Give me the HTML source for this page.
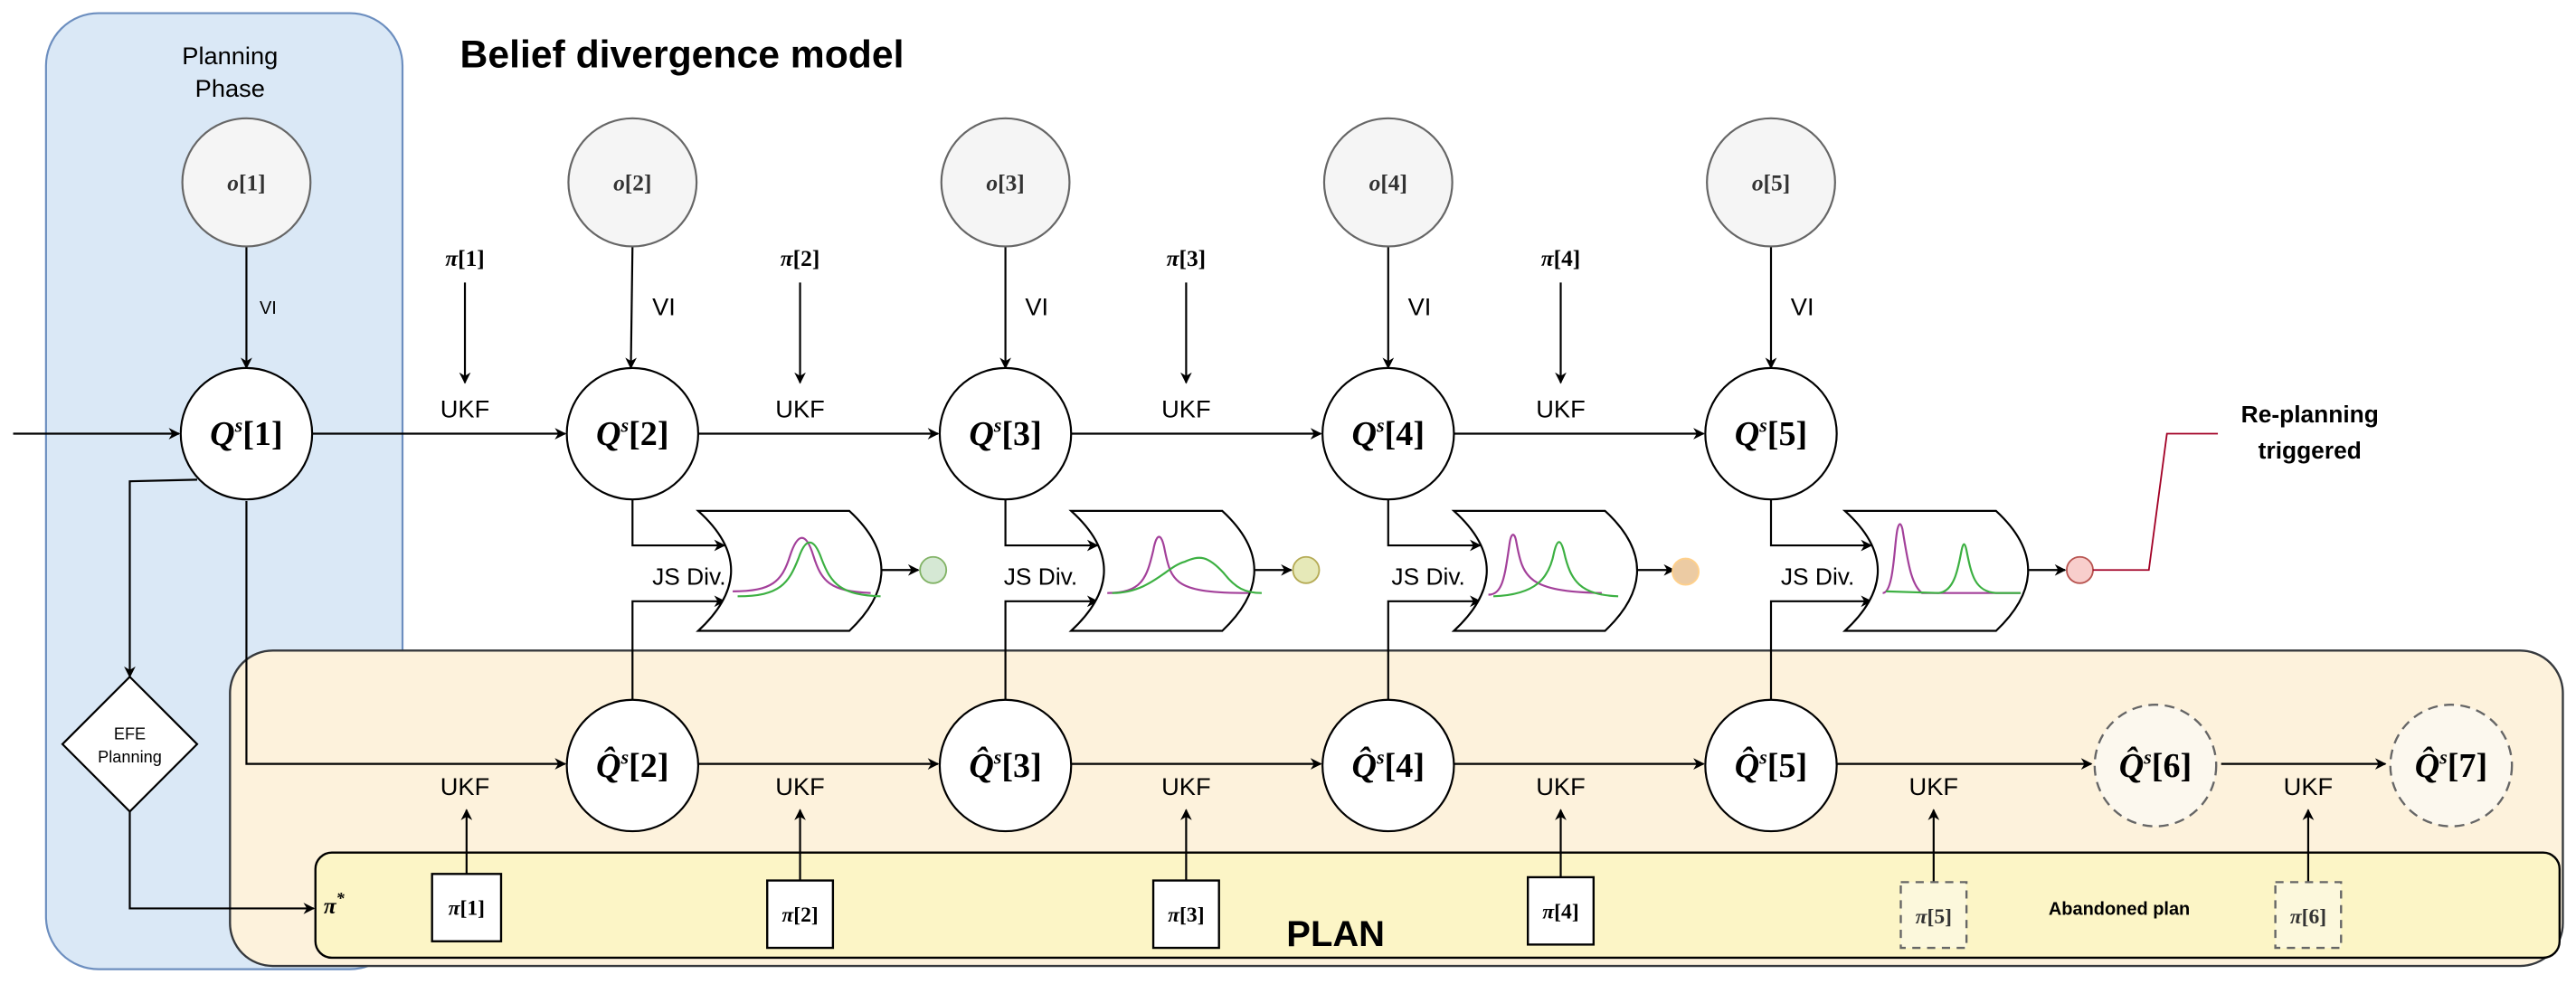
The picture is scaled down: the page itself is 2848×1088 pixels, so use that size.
<!DOCTYPE html>
<html><head><meta charset="utf-8"><style>
html,body{margin:0;padding:0;background:#fff;}
svg{display:block;}
.s{font-family:"Liberation Sans",sans-serif;}
.m{font-family:"Liberation Serif",serif;}
</style></head><body>
<svg width="2848" height="1088" viewBox="0 0 1568 599" xmlns="http://www.w3.org/2000/svg">
<defs>
<marker id="a" viewBox="0 0 10 10" refX="9" refY="5" markerWidth="7" markerHeight="7" orient="auto" markerUnits="userSpaceOnUse">
<path d="M0,0 L10,5 L0,10 L3,5 Z" fill="#000"/></marker>
</defs>
<rect width="1568" height="599" fill="#fff"/>
<rect x="28" y="8" width="217" height="582" rx="32" fill="#dae8f6" stroke="#6c8ebf" stroke-width="1.2"/>
<text class="s" x="140" y="39" font-size="15" text-anchor="middle">Planning</text>
<text class="s" x="140" y="59" font-size="15" text-anchor="middle">Phase</text>
<text class="s" x="280" y="41" font-size="23.5" font-weight="bold">Belief divergence model</text>
<rect x="140" y="396" width="1420" height="192" rx="26" fill="#fdf2dc" stroke="#36393d" stroke-width="1.3"/>
<rect x="192" y="519" width="1366" height="64" rx="10" fill="#fcf5c6" stroke="#000" stroke-width="1.3"/>
<text class="s" x="813" y="576" font-size="22" font-weight="bold" text-anchor="middle">PLAN</text>
<text class="s" x="1290" y="557" font-size="11" font-weight="bold" text-anchor="middle">Abandoned plan</text>
<text class="m" x="197" y="556" font-size="14" font-style="italic" font-weight="bold">π<tspan font-size="10" dy="-6">*</tspan></text>

<g stroke="#000" stroke-width="1.2" fill="none">
<line x1="150" y1="150" x2="150" y2="224" marker-end="url(#a)"/>
<line x1="385" y1="150" x2="384" y2="224" marker-end="url(#a)"/>
<line x1="612" y1="150" x2="612" y2="224" marker-end="url(#a)"/>
<line x1="845" y1="150" x2="845" y2="224" marker-end="url(#a)"/>
<line x1="1078" y1="150" x2="1078" y2="224" marker-end="url(#a)"/>
<line x1="283" y1="172" x2="283" y2="233" marker-end="url(#a)"/>
<line x1="487" y1="172" x2="487" y2="233" marker-end="url(#a)"/>
<line x1="722" y1="172" x2="722" y2="233" marker-end="url(#a)"/>
<line x1="950" y1="172" x2="950" y2="233" marker-end="url(#a)"/>
<line x1="8" y1="264" x2="109" y2="264" marker-end="url(#a)"/>
<line x1="190" y1="264" x2="344" y2="264" marker-end="url(#a)"/>
<line x1="425" y1="264" x2="571" y2="264" marker-end="url(#a)"/>
<line x1="652" y1="264" x2="804" y2="264" marker-end="url(#a)"/>
<line x1="885" y1="264" x2="1037" y2="264" marker-end="url(#a)"/>
<polyline points="120,292 79,293 79,412" marker-end="url(#a)"/>
<polyline points="79,494 79,553 191,553" marker-end="url(#a)"/>
<polyline points="150,305 150,465 344,465" marker-end="url(#a)"/>
<line x1="425" y1="465" x2="571" y2="465" marker-end="url(#a)"/>
<line x1="652" y1="465" x2="804" y2="465" marker-end="url(#a)"/>
<line x1="885" y1="465" x2="1037" y2="465" marker-end="url(#a)"/>
<line x1="1118" y1="465" x2="1273" y2="465" marker-end="url(#a)"/>
<line x1="1352" y1="465" x2="1452" y2="465" marker-end="url(#a)"/>
<line x1="284" y1="532" x2="284" y2="493" marker-end="url(#a)"/>
<line x1="487" y1="536" x2="487" y2="493" marker-end="url(#a)"/>
<line x1="722" y1="536" x2="722" y2="493" marker-end="url(#a)"/>
<line x1="950" y1="534" x2="950" y2="493" marker-end="url(#a)"/>
<line x1="1177" y1="537" x2="1177" y2="493" marker-end="url(#a)"/>
<line x1="1405" y1="537" x2="1405" y2="493" marker-end="url(#a)"/>
</g>

<polygon points="79,412 120,453 79,494 38,453" fill="#fff" stroke="#000" stroke-width="1.2"/>
<text class="s" x="79" y="450" font-size="10" text-anchor="middle">EFE</text>
<text class="s" x="79" y="464" font-size="10" text-anchor="middle">Planning</text>

<g fill="#f5f5f5" stroke="#666" stroke-width="1.2">
<circle cx="150" cy="111" r="39"/><circle cx="385" cy="111" r="39"/><circle cx="612" cy="111" r="39"/><circle cx="845" cy="111" r="39"/><circle cx="1078" cy="111" r="39"/>
</g>
<g class="m" font-size="14" font-weight="bold" text-anchor="middle" fill="#333">
<text x="150" y="116"><tspan font-style="italic">o</tspan>[1]</text>
<text x="385" y="116"><tspan font-style="italic">o</tspan>[2]</text>
<text x="612" y="116"><tspan font-style="italic">o</tspan>[3]</text>
<text x="845" y="116"><tspan font-style="italic">o</tspan>[4]</text>
<text x="1078" y="116"><tspan font-style="italic">o</tspan>[5]</text>
</g>
<g class="s" font-size="15">
<text x="158" y="191" font-size="11">VI</text>
<text x="397" y="192">VI</text><text x="624" y="192">VI</text><text x="857" y="192">VI</text><text x="1090" y="192">VI</text>
</g>
<g class="m" font-size="14" font-weight="bold" text-anchor="middle">
<text x="283" y="162"><tspan font-style="italic">π</tspan>[1]</text>
<text x="487" y="162"><tspan font-style="italic">π</tspan>[2]</text>
<text x="722" y="162"><tspan font-style="italic">π</tspan>[3]</text>
<text x="950" y="162"><tspan font-style="italic">π</tspan>[4]</text>
</g>
<g class="s" font-size="15" text-anchor="middle">
<text x="283" y="254">UKF</text><text x="487" y="254">UKF</text><text x="722" y="254">UKF</text><text x="950" y="254">UKF</text>
<text x="283" y="484">UKF</text><text x="487" y="484">UKF</text><text x="722" y="484">UKF</text><text x="950" y="484">UKF</text><text x="1177" y="484">UKF</text><text x="1405" y="484">UKF</text>
</g>

<g fill="#fff" stroke="#000" stroke-width="1.2">
<circle cx="150" cy="264" r="40"/><circle cx="385" cy="264" r="40"/><circle cx="612" cy="264" r="40"/><circle cx="845" cy="264" r="40"/><circle cx="1078" cy="264" r="40"/>
<circle cx="385" cy="466" r="40"/><circle cx="612" cy="466" r="40"/><circle cx="845" cy="466" r="40"/><circle cx="1078" cy="466" r="40"/>
</g>
<g fill="#fcf8ee" stroke="#666" stroke-width="1.3" stroke-dasharray="6,4">
<circle cx="1312" cy="466" r="37"/><circle cx="1492" cy="466" r="37"/>
</g>
<g class="m" font-size="21" font-weight="bold" text-anchor="middle">
<text x="150" y="271"><tspan font-style="italic">Q</tspan><tspan font-size="12" dy="-8" font-style="italic">s</tspan><tspan dy="8">[1]</tspan></text>
<text x="385" y="271"><tspan font-style="italic">Q</tspan><tspan font-size="12" dy="-8" font-style="italic">s</tspan><tspan dy="8">[2]</tspan></text>
<text x="612" y="271"><tspan font-style="italic">Q</tspan><tspan font-size="12" dy="-8" font-style="italic">s</tspan><tspan dy="8">[3]</tspan></text>
<text x="845" y="271"><tspan font-style="italic">Q</tspan><tspan font-size="12" dy="-8" font-style="italic">s</tspan><tspan dy="8">[4]</tspan></text>
<text x="1078" y="271"><tspan font-style="italic">Q</tspan><tspan font-size="12" dy="-8" font-style="italic">s</tspan><tspan dy="8">[5]</tspan></text>
<text x="385" y="473"><tspan font-style="italic">Q̂</tspan><tspan font-size="12" dy="-8" font-style="italic">s</tspan><tspan dy="8">[2]</tspan></text>
<text x="612" y="473"><tspan font-style="italic">Q̂</tspan><tspan font-size="12" dy="-8" font-style="italic">s</tspan><tspan dy="8">[3]</tspan></text>
<text x="845" y="473"><tspan font-style="italic">Q̂</tspan><tspan font-size="12" dy="-8" font-style="italic">s</tspan><tspan dy="8">[4]</tspan></text>
<text x="1078" y="473"><tspan font-style="italic">Q̂</tspan><tspan font-size="12" dy="-8" font-style="italic">s</tspan><tspan dy="8">[5]</tspan></text>
<text x="1312" y="473"><tspan font-style="italic">Q̂</tspan><tspan font-size="12" dy="-8" font-style="italic">s</tspan><tspan dy="8">[6]</tspan></text>
<text x="1492" y="473"><tspan font-style="italic">Q̂</tspan><tspan font-size="12" dy="-8" font-style="italic">s</tspan><tspan dy="8">[7]</tspan></text>
</g>

<g fill="#fff" stroke="#000" stroke-width="1.3">
<rect x="263" y="532" width="42" height="41"/>
<rect x="467" y="536" width="40" height="41"/>
<rect x="702" y="536" width="40" height="41"/>
<rect x="930" y="534" width="40" height="41"/>
</g>
<g fill="#fcf8dc" stroke="#666" stroke-width="1.3" stroke-dasharray="5,4">
<rect x="1157" y="537" width="40" height="40"/>
<rect x="1385" y="537" width="40" height="40"/>
</g>
<g class="m" font-size="13" font-weight="bold" text-anchor="middle">
<text x="284" y="557"><tspan font-style="italic">π</tspan>[1]</text>
<text x="487" y="561"><tspan font-style="italic">π</tspan>[2]</text>
<text x="722" y="561"><tspan font-style="italic">π</tspan>[3]</text>
<text x="950" y="559"><tspan font-style="italic">π</tspan>[4]</text>
<text x="1177" y="562" fill="#333"><tspan font-style="italic">π</tspan>[5]</text>
<text x="1405" y="562" fill="#333"><tspan font-style="italic">π</tspan>[6]</text>
</g>

<g>
<g stroke="#000" stroke-width="1.2" fill="none">
<polyline points="385,304 385,332 441,332" marker-end="url(#a)"/>
<polyline points="385,426 385,366 441,366" marker-end="url(#a)"/>
<line x1="537" y1="347" x2="559" y2="347" marker-end="url(#a)"/>
</g>
<path d="M425,311 L517,311 Q556,347 517,384 L425,384 Q465,347 425,311 Z" fill="#fff" stroke="#000" stroke-width="1.2"/>
<text class="s" x="397" y="356" font-size="14.5">JS Div.</text>
<path d="M446,360 C470,360 476,354 481,338 C485,326 490,322 495,338 C500,354 505,360 530,361" fill="none" stroke="#a3409a" stroke-width="1.2"/>
<path d="M449,363 C475,363 480,355 486,340 C490,328 495,326 500,340 C506,356 512,362 536,363" fill="none" stroke="#3cb042" stroke-width="1.2"/>
<circle cx="568" cy="347" r="8" fill="#d5e8d4" stroke="#82b366" stroke-width="1"/>
</g>
<g>
<g stroke="#000" stroke-width="1.2" fill="none">
<polyline points="612,304 612,332 668,332" marker-end="url(#a)"/>
<polyline points="612,426 612,366 668,366" marker-end="url(#a)"/>
<line x1="764" y1="347" x2="786" y2="347" marker-end="url(#a)"/>
</g>
<path d="M652,311 L744,311 Q783,347 744,384 L652,384 Q692,347 652,311 Z" fill="#fff" stroke="#000" stroke-width="1.2"/>
<text class="s" x="611" y="356" font-size="14.5">JS Div.</text>
<path d="M674,361 C695,361 698,352 702,335 C704,324 707,324 709,335 C713,355 716,361 760,361" fill="none" stroke="#a3409a" stroke-width="1.2"/>
<path d="M677,361 C700,361 710,345 721,342 C730,338 735,338 745,349 C752,358 758,361 768,361" fill="none" stroke="#3cb042" stroke-width="1.2"/>
<circle cx="795" cy="347" r="8" fill="#e6e9b8" stroke="#b5ab55" stroke-width="1"/>
</g>
<g>
<g stroke="#000" stroke-width="1.2" fill="none">
<polyline points="845,304 845,332 901,332" marker-end="url(#a)"/>
<polyline points="845,426 845,366 901,366" marker-end="url(#a)"/>
<line x1="997" y1="347" x2="1019" y2="347" marker-end="url(#a)"/>
</g>
<path d="M885,311 L977,311 Q1016,347 977,384 L885,384 Q925,347 885,311 Z" fill="#fff" stroke="#000" stroke-width="1.2"/>
<text class="s" x="847" y="356" font-size="14.5">JS Div.</text>
<path d="M906,362 C915,362 916,350 919,330 C920,324 922,324 923,330 C927,352 930,360 975,361" fill="none" stroke="#a3409a" stroke-width="1.2"/>
<path d="M909,363 C935,362 943,352 946,336 C948,328 950,328 952,336 C956,354 962,362 985,363" fill="none" stroke="#3cb042" stroke-width="1.2"/>
<circle cx="1026" cy="348" r="8" fill="#eccba3" stroke="#ffd08a" stroke-width="1"/>
</g>
<g>
<g stroke="#000" stroke-width="1.2" fill="none">
<polyline points="1078,304 1078,332 1139,332" marker-end="url(#a)"/>
<polyline points="1078,426 1078,366 1139,366" marker-end="url(#a)"/>
<line x1="1235" y1="347" x2="1257" y2="347" marker-end="url(#a)"/>
</g>
<path d="M1123,311 L1215,311 Q1254,347 1215,384 L1123,384 Q1163,347 1123,311 Z" fill="#fff" stroke="#000" stroke-width="1.2"/>
<text class="s" x="1084" y="356" font-size="14.5">JS Div.</text>
<path d="M1146,361 C1153,361 1153,330 1155,322 C1156,318 1157,318 1158,322 C1161,340 1163,356 1170,361 L1230,361" fill="none" stroke="#a3409a" stroke-width="1.2"/>
<path d="M1148,360 L1180,361 C1190,360 1192,345 1194,335 C1195,330 1196,330 1197,335 C1200,350 1202,360 1215,361 L1230,361" fill="none" stroke="#3cb042" stroke-width="1.2"/>
<circle cx="1266" cy="347" r="8" fill="#f8cecc" stroke="#b85450" stroke-width="1"/>
</g>
<polyline points="1274,347 1308,347 1319,264 1350,264" fill="none" stroke="#a20025" stroke-width="1"/>
<text class="s" x="1406" y="257" font-size="14.5" font-weight="bold" text-anchor="middle">Re-planning</text>
<text class="s" x="1406" y="279" font-size="14.5" font-weight="bold" text-anchor="middle">triggered</text>
</svg>
</body></html>
